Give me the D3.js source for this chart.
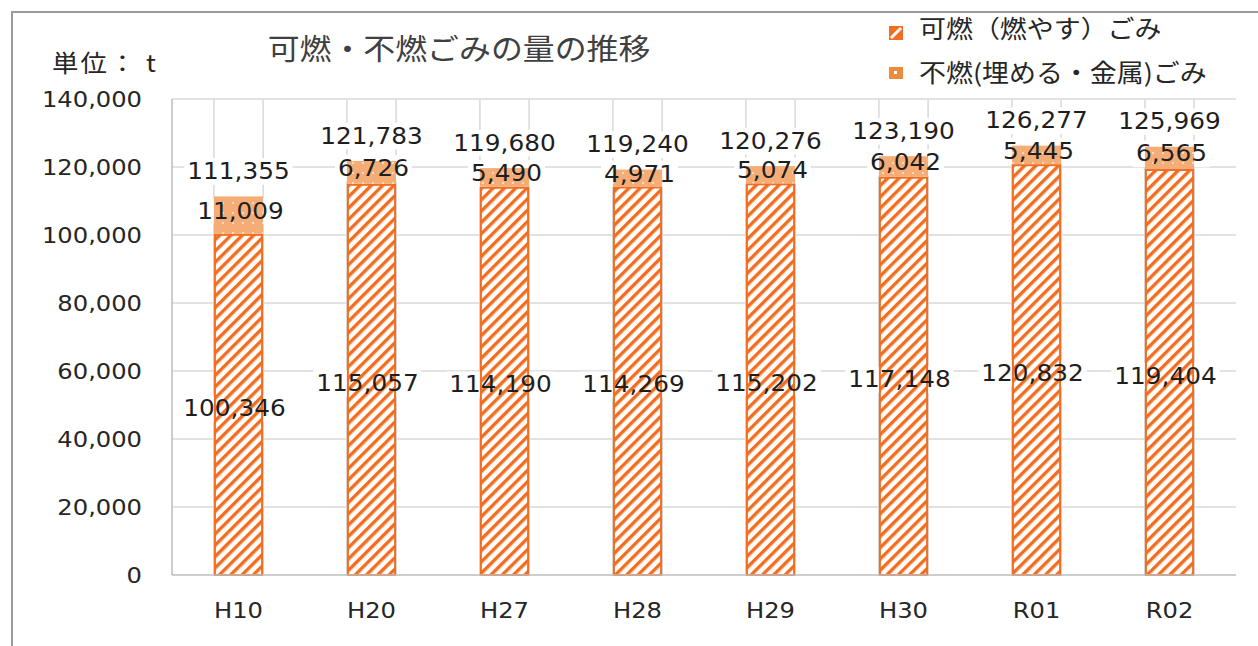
<!DOCTYPE html>
<html><head><meta charset="utf-8">
<script src="https://cdn.jsdelivr.net/npm/d3@7/dist/d3.min.js"></script>
<style>body{margin:0;background:#fff}svg{display:block}</style>
</head><body>
<script>
const categories = ["H10","H20","H27","H28","H29","H30","R01","R02"];
const combustible = [100346,115057,114190,114269,115202,117148,120832,119404];
const nonCombustible = [11009,6726,5490,4971,5074,6042,5445,6565];
const totals = [111355,121783,119680,119240,120276,123190,126277,125969];
const yTicks = [0,20000,40000,60000,80000,100000,120000,140000];
const seriesNames = ["可燃（燃やす）ごみ","不燃(埋める・金属)ごみ"];
const titleText = "可燃・不燃ごみの量の推移";
const unitText = "単位： t";

const W = 1258, H = 646, SX = 1.1;
const svg = d3.select("body").append("svg").attr("width",W).attr("height",H);
const defs = svg.append("defs");
const ORANGE = "#F26D1F", PEACH = "#F4AD76";
const hatch = defs.append("pattern").attr("id","hatch").attr("patternUnits","userSpaceOnUse")
  .attr("width",8).attr("height",8).attr("patternTransform","rotate(45)");
hatch.append("rect").attr("width",8).attr("height",8).attr("fill","#fff");
hatch.append("rect").attr("width",3.4).attr("height",8).attr("fill",ORANGE);
const dots = defs.append("pattern").attr("id","dots").attr("patternUnits","userSpaceOnUse")
  .attr("width",10).attr("height",10);
dots.append("rect").attr("width",10).attr("height",10).attr("fill",PEACH);
dots.append("circle").attr("cx",3).attr("cy",3).attr("r",0.9).attr("fill","#fff").attr("opacity",0.8);

// outer frame
svg.append("path").attr("d","M12,646 L12,12 L1258,12").attr("fill","none").attr("stroke","#9a9a9a").attr("stroke-width",2);

const x = d3.scaleBand().domain(categories).range([172,1236]).paddingInner(0.63).paddingOuter(0.315);
const y = d3.scaleLinear().domain([0,140000]).range([575,99]);
const fmt = d3.format(",");

// horizontal gridlines
svg.append("g").selectAll("line").data(yTicks.filter(d=>d>0)).join("line")
  .attr("x1",172).attr("x2",1236).attr("y1",d=>y(d)).attr("y2",d=>y(d))
  .attr("stroke","#d9d9d9").attr("stroke-width",1.5);
// vertical lines at bar edges
const edges = categories.flatMap(c=>[x(c), x(c)+x.bandwidth()]);
svg.append("g").selectAll("line").data(edges).join("line")
  .attr("x1",d=>d).attr("x2",d=>d).attr("y1",y(140000)).attr("y2",y(0))
  .attr("stroke","#d9d9d9").attr("stroke-width",1.5);
// left axis line
svg.append("line").attr("x1",172).attr("x2",172).attr("y1",y(140000)).attr("y2",y(0)).attr("stroke","#bdbdbd").attr("stroke-width",1.5);

// label specs
const labels = [];
categories.forEach((c,i)=>{
  const cx = x(c)+x.bandwidth()/2;
  labels.push({x:cx-4, y:(y(0)+y(combustible[i]))/2+4, t:fmt(combustible[i])});
  labels.push({x:cx+2, y:(y(combustible[i])+y(totals[i]))/2-4, t:fmt(nonCombustible[i])});
  labels.push({x:cx, y:y(totals[i])-25, t:fmt(totals[i])});
});
const LFS = 22.5;
const bgG = svg.append("g");
const barsG = svg.append("g");
const textG = svg.append("g");

function sText(g, t, px, py, size, anchor, color){
  return g.append("text").attr("transform",`translate(${px},${py}) scale(${SX},1)`)
    .attr("text-anchor",anchor).attr("dominant-baseline","central")
    .attr("font-family","DejaVu Sans, Verdana, sans-serif").attr("font-size",size)
    .attr("fill",color).text(t);
}
labels.forEach(l=>{
  const tt = sText(textG, l.t, l.x, l.y, LFS, "middle", "#1e1e1e");
  const bb = tt.node().getBBox();
  const w = bb.width*SX;
  bgG.append("rect").attr("x",l.x-w/2-3).attr("y",l.y-bb.height/2).attr("width",w+6).attr("height",bb.height).attr("fill","#fff");
});

// bars
barsG.selectAll("rect.c").data(categories).join("rect").attr("class","c")
  .attr("x",d=>x(d)+1).attr("width",x.bandwidth()-2)
  .attr("y",(d,i)=>y(combustible[i])+1).attr("height",(d,i)=>y(0)-y(combustible[i])-1)
  .attr("fill","url(#hatch)").attr("stroke",ORANGE).attr("stroke-width",2);
barsG.selectAll("rect.n").data(categories).join("rect").attr("class","n")
  .attr("x",d=>x(d)).attr("width",x.bandwidth())
  .attr("y",(d,i)=>y(totals[i])).attr("height",(d,i)=>y(combustible[i])-y(totals[i]))
  .attr("fill","url(#dots)");

// baseline
svg.append("line").attr("x1",172).attr("x2",1236).attr("y1",y(0)).attr("y2",y(0)).attr("stroke","#bdbdbd").attr("stroke-width",1.5);

// axes
const yAxis = svg.append("g").attr("transform","translate(172,0)")
  .call(d3.axisLeft(y).tickValues(yTicks).tickFormat(fmt).tickSize(0).tickPadding(30));
yAxis.select(".domain").remove();
yAxis.selectAll("text").attr("x",0).attr("dy",null).attr("dominant-baseline","central")
  .attr("transform","translate(-30,0) scale(1.1,1)")
  .attr("font-family","DejaVu Sans, Verdana, sans-serif").attr("font-size",22).attr("fill","#262626");
const xAxis = svg.append("g").attr("transform",`translate(0,${y(0)})`)
  .call(d3.axisBottom(x).tickSize(0).tickPadding(35));
xAxis.select(".domain").remove();
xAxis.selectAll("text").attr("y",0).attr("dy",null).attr("dominant-baseline","central")
  .attr("transform","translate(0,35) scale(1.1,1)")
  .attr("font-family","DejaVu Sans, Verdana, sans-serif").attr("font-size",22).attr("fill","#262626");

// title and unit
const JP = "Noto Sans CJK JP, sans-serif";
svg.append("text").attr("transform",`translate(459,48) scale(${SX},1)`).attr("text-anchor","middle")
  .attr("dominant-baseline","central").attr("font-family",JP).attr("font-size",29).attr("fill","#404040").text(titleText);
svg.append("text").attr("transform",`translate(52,62) scale(${SX},1)`).attr("text-anchor","start")
  .attr("dominant-baseline","central").attr("font-family",JP).attr("font-size",24).attr("letter-spacing",2).attr("fill","#262626").text(unitText);

// legend
const lg = svg.append("g");
lg.append("rect").attr("x",889).attr("y",26).attr("width",14).attr("height",14).attr("fill",ORANGE);
lg.append("line").attr("x1",891).attr("y1",38).attr("x2",901).attr("y2",28).attr("stroke","#fff").attr("stroke-width",3);
lg.append("rect").attr("x",889).attr("y",67).attr("width",14).attr("height",12).attr("fill","#EE8A3E");
lg.append("rect").attr("x",894).attr("y",71).attr("width",3).attr("height",3).attr("fill","#fff");
seriesNames.forEach((n,i)=>{
  lg.append("text").attr("transform",`translate(919,${i?71:27}) scale(${SX},1)`).attr("text-anchor","start")
    .attr("dominant-baseline","central").attr("font-family",JP).attr("font-size",24.5).attr("fill","#262626").text(n);
});
</script>
</body></html>
